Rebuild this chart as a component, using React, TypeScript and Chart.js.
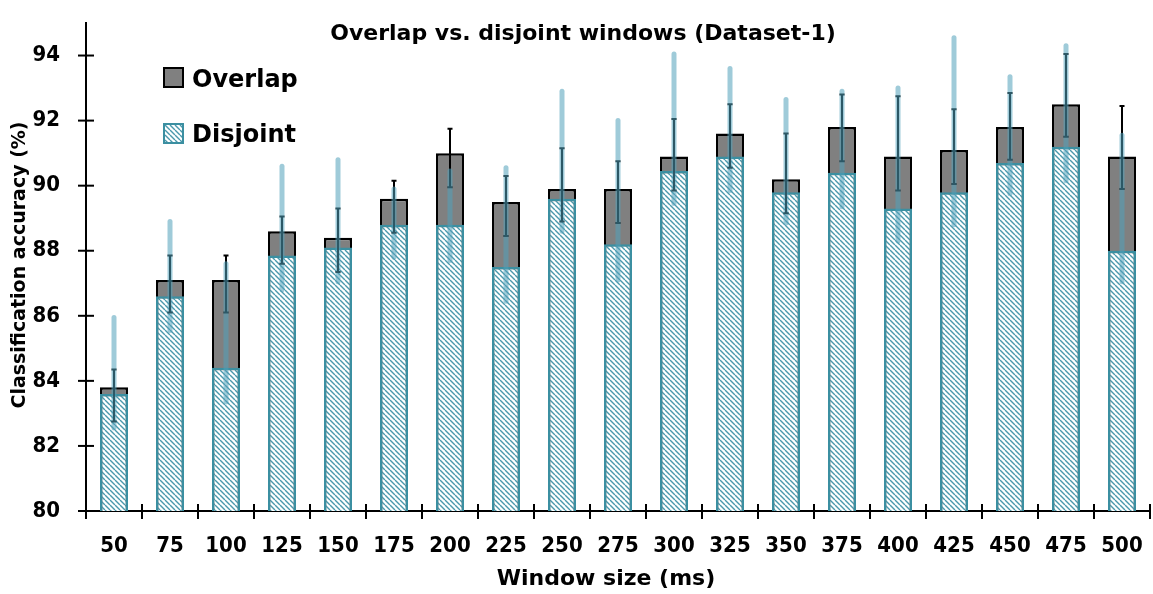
import React, { useEffect, useRef } from 'react';
import { Chart, registerables } from 'chart.js';

Chart.register(...registerables);

const categories = ['50', '75', '100', '125', '150', '175', '200', '225', '250', '275', '300', '325', '350', '375', '400', '425', '450', '475', '500'];
const overlapAcc = [83.8, 87.1, 87.1, 88.6, 88.4, 89.6, 91.0, 89.5, 89.9, 89.9, 90.9, 91.6, 90.2, 91.8, 90.9, 91.1, 91.8, 92.5, 90.9];
const disjointAcc = [83.6, 86.6, 84.4, 87.85, 88.1, 88.8, 88.8, 87.5, 89.6, 88.2, 90.45, 90.9, 89.8, 90.4, 89.3, 89.8, 90.7, 91.2, 88.0];
const overlapErrLow = [82.75, 86.1, 86.1, 87.6, 87.35, 88.55, 89.95, 88.45, 88.9, 88.85, 89.85, 90.55, 89.15, 90.75, 89.85, 90.05, 90.8, 91.5, 89.9];
const overlapErrHigh = [84.35, 87.85, 87.85, 89.05, 89.3, 90.15, 91.75, 90.3, 91.15, 90.75, 92.05, 92.5, 91.6, 92.8, 92.75, 92.35, 92.85, 94.05, 92.45];
const disjointErrLow = [82.55, 85.55, 83.35, 86.8, 87.05, 87.8, 87.7, 86.45, 88.6, 87.1, 89.45, 89.85, 88.85, 89.35, 88.3, 88.8, 89.75, 90.15, 87.05];
const disjointErrHigh = [85.95, 88.9, 87.6, 90.6, 90.8, 89.9, 90.45, 90.55, 92.9, 92.0, 94.05, 93.6, 92.65, 92.9, 93.0, 94.55, 93.35, 94.3, 91.55];
const yMin = 80;
const yMax = 95;
const yStep = 2;
const chartTitle = 'Overlap vs. disjoint windows (Dataset-1)';
const xTitle = 'Window size (ms)';
const yTitle = 'Classification accuracy (%)';
const legendLabels = ['Overlap', 'Disjoint'];

const GRAY = '#808080';
const TEAL = '#3b8fa1';
const HATCH = '#4a98ac';
const LIGHT_ERR = 'rgba(80,160,185,0.55)';
const TICK_FONT = { family: '"DejaVu Sans Condensed", "DejaVu Sans", sans-serif', size: 22, weight: 'bold' as const };

function makeHatch(): CanvasPattern | string {
  const s = 5;
  const c = document.createElement('canvas');
  c.width = s;
  c.height = s;
  const g = c.getContext('2d');
  if (!g) return '#fff';
  g.fillStyle = '#fff';
  g.fillRect(0, 0, s, s);
  g.strokeStyle = HATCH;
  g.lineWidth = 1.4;
  g.beginPath();
  for (const k of [-1, 0, 1]) {
    g.moveTo(k * s, 0);
    g.lineTo(k * s + s, s);
  }
  g.stroke();
  return g.createPattern(c, 'repeat') || '#fff';
}

export default function App() {
  const ref = useRef<HTMLCanvasElement | null>(null);

  useEffect(() => {
    if (!ref.current) return;
    const hatch = makeHatch();

    const decor = {
      id: 'decor',
      afterDatasetsDraw(chart: any) {
        const { ctx } = chart;
        const x = chart.scales.x;
        const y = chart.scales.y;
        ctx.save();
        ctx.strokeStyle = '#000';
        ctx.lineWidth = 2;
        categories.forEach((_, i) => {
          const px = x.getPixelForValue(i);
          const top = y.getPixelForValue(overlapErrHigh[i]);
          const bot = y.getPixelForValue(overlapErrLow[i]);
          ctx.beginPath();
          ctx.moveTo(px, top);
          ctx.lineTo(px, bot);
          ctx.moveTo(px - 2.5, top);
          ctx.lineTo(px + 2.5, top);
          ctx.moveTo(px - 2.5, bot);
          ctx.lineTo(px + 2.5, bot);
          ctx.stroke();
        });
        ctx.strokeStyle = LIGHT_ERR;
        ctx.lineWidth = 5;
        ctx.lineCap = 'round';
        categories.forEach((_, i) => {
          const px = x.getPixelForValue(i);
          ctx.beginPath();
          ctx.moveTo(px, y.getPixelForValue(disjointErrHigh[i]));
          ctx.lineTo(px, y.getPixelForValue(disjointErrLow[i]));
          ctx.stroke();
        });
        ctx.restore();
      },
      afterDraw(chart: any) {
        const { ctx, chartArea } = chart;
        const y = chart.scales.y;
        ctx.save();
        ctx.strokeStyle = '#000';
        ctx.lineWidth = 2;
        for (let v = yMin; v < yMax; v += yStep) {
          const py = y.getPixelForValue(v);
          ctx.beginPath();
          ctx.moveTo(chartArea.left - 8, py);
          ctx.lineTo(chartArea.left + 8, py);
          ctx.stroke();
        }
        const n = categories.length;
        for (let i = 0; i <= n; i++) {
          const px = chartArea.left + (i * (chartArea.right - chartArea.left)) / n;
          ctx.beginPath();
          ctx.moveTo(px, chartArea.bottom - 7);
          ctx.lineTo(px, chartArea.bottom + 8);
          ctx.stroke();
        }
        ctx.fillStyle = '#000';
        ctx.font = 'bold 22px "DejaVu Sans", sans-serif';
        ctx.textAlign = 'center';
        ctx.textBaseline = 'alphabetic';
        ctx.fillText(chartTitle, 583, 40);
        ctx.font = 'bold 22px "DejaVu Sans", sans-serif';
        ctx.textBaseline = 'middle';
        ctx.fillText(xTitle, 606, 579);
        ctx.save();
        ctx.translate(20, 265);
        ctx.rotate(-Math.PI / 2);
        ctx.font = 'bold 19px "DejaVu Sans", sans-serif';
        ctx.fillText(yTitle, 0, 0);
        ctx.restore();
        ctx.lineWidth = 2;
        ctx.fillStyle = GRAY;
        ctx.fillRect(164, 68, 19, 19);
        ctx.strokeStyle = '#000';
        ctx.strokeRect(164, 68, 19, 19);
        ctx.fillStyle = hatch as any;
        ctx.fillRect(164, 124, 19, 19);
        ctx.strokeStyle = TEAL;
        ctx.strokeRect(164, 124, 19, 19);
        ctx.fillStyle = '#000';
        ctx.font = 'bold 24px "DejaVu Sans", sans-serif';
        ctx.textAlign = 'left';
        ctx.textBaseline = 'alphabetic';
        ctx.fillText(legendLabels[0], 192, 87);
        ctx.fillText(legendLabels[1], 192, 142);
        ctx.restore();
      },
    };

    const chart = new Chart(ref.current, {
      type: 'bar',
      data: {
        labels: categories,
        datasets: [
          {
            label: legendLabels[0],
            data: overlapAcc,
            backgroundColor: GRAY,
            borderColor: '#000',
            borderWidth: 2.5,
            borderSkipped: false,
            order: 2,
          },
          {
            label: legendLabels[1],
            data: disjointAcc,
            backgroundColor: hatch as any,
            borderColor: TEAL,
            borderWidth: 2.5,
            borderSkipped: false,
            order: 1,
          },
        ],
      },
      options: {
        responsive: false,
        animation: false,
        devicePixelRatio: 1,
        layout: { padding: { top: 23, right: 3, left: 0, bottom: 0 } },
        plugins: {
          legend: { display: false },
          title: { display: false },
          tooltip: { enabled: false },
        },
        datasets: { bar: { barPercentage: 0.5, categoryPercentage: 1 } },
        scales: {
          x: {
            stacked: true,
            offset: true,
            grid: { display: false, drawTicks: false },
            border: { display: true, color: '#000', width: 2 },
            ticks: { color: '#000', font: TICK_FONT, padding: 22, maxRotation: 0, autoSkip: false },
            afterFit: (s: any) => {
              s.height = 83;
              s.paddingLeft = 0;
              s.paddingRight = 0;
            },
          },
          y: {
            stacked: false,
            min: yMin,
            max: yMax,
            grid: { display: false, drawTicks: false },
            border: { display: true, color: '#000', width: 2 },
            ticks: { stepSize: yStep, includeBounds: false, color: '#000', font: TICK_FONT, padding: 26 },
            afterFit: (s: any) => {
              s.width = 86;
              s.paddingTop = 0;
              s.paddingBottom = 0;
            },
          },
        },
      },
      plugins: [decor],
    } as any);

    return () => chart.destroy();
  }, []);

  return (
    <div style={{ position: 'fixed', left: 0, top: 0, width: 1153, height: 594, background: '#fff' }}>
      <canvas ref={ref} width={1153} height={594} />
    </div>
  );
}
